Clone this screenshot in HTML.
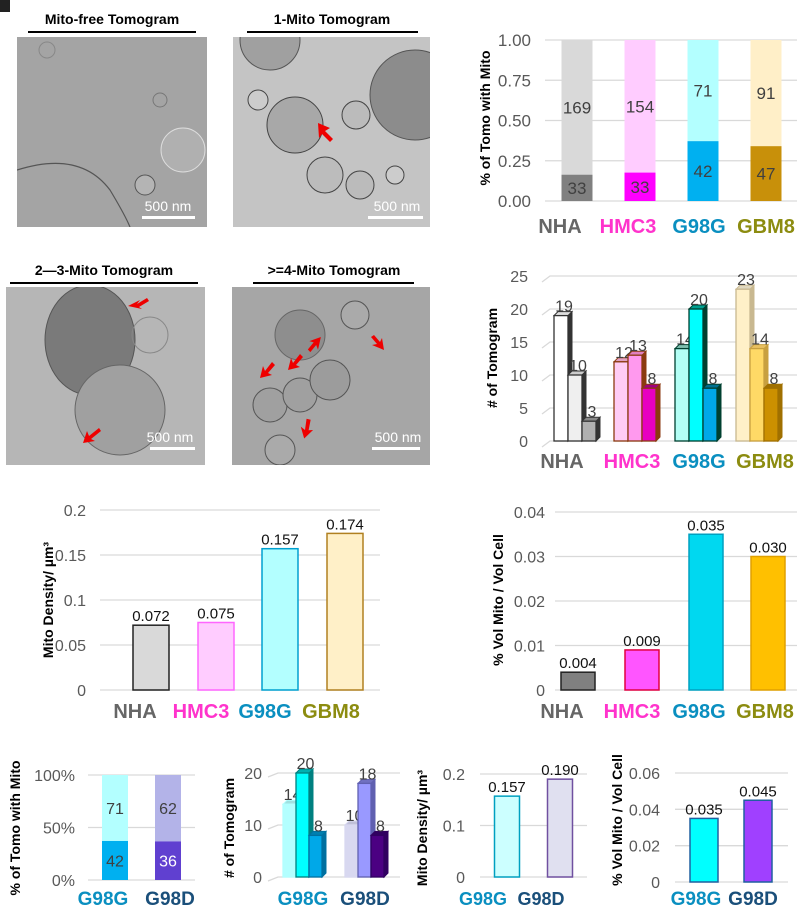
<!DOCTYPE html>
<html><head><meta charset="utf-8"><style>
body{margin:0;background:#fff;}
svg{display:block;font-family:"Liberation Sans",Arial,sans-serif;}
</style></head><body>
<svg id="fig" width="799" height="915" viewBox="0 0 799 915" xmlns="http://www.w3.org/2000/svg">
<defs>
<clipPath id="c1"><rect x="17" y="37" width="190" height="190"/></clipPath>
<clipPath id="c2"><rect x="233" y="37" width="197" height="190"/></clipPath>
<clipPath id="c3"><rect x="6" y="287" width="199" height="178"/></clipPath>
<clipPath id="c4"><rect x="232" y="287" width="198" height="178"/></clipPath>
</defs>
<g id="imgs">
  <rect x="0" y="0" width="10" height="12" fill="#222"/>
  <text x="112" y="24" font-size="14" font-weight="bold" text-anchor="middle">Mito-free Tomogram</text>
  <line x1="28" y1="32" x2="196" y2="32" stroke="#000" stroke-width="2"/>
  <g clip-path="url(#c1)">
  <rect x="17" y="37" width="190" height="190" fill="#a4a4a4"/>
  <path d="M17 170 Q80 150 110 190 Q125 215 130 227" fill="none" stroke="#555" stroke-width="1.2"/>
  <circle cx="145" cy="185" r="10" fill="#b4b4b4" stroke="#555"/><circle cx="183" cy="150" r="22" fill="#b0b0b0" stroke="#ddd"/>
  <circle cx="47" cy="50" r="8" fill="none" stroke="#888"/><circle cx="160" cy="100" r="7" fill="none" stroke="#777"/>
  </g>
  <text x="168" y="211" font-size="14" fill="#fff" text-anchor="middle">500 nm</text>
  <rect x="142" y="216" width="53" height="3" fill="#fff"/>

  <text x="332" y="24" font-size="14" font-weight="bold" text-anchor="middle">1-Mito Tomogram</text>
  <line x1="247" y1="32" x2="418" y2="32" stroke="#000" stroke-width="2"/>
  <g clip-path="url(#c2)">
  <rect x="233" y="37" width="197" height="190" fill="#c4c4c4"/>
  <circle cx="415" cy="95" r="45" fill="#8c8c8c" stroke="#555"/><circle cx="295" cy="125" r="28" fill="#a8a8a8" stroke="#444"/>
  <circle cx="325" cy="175" r="18" fill="#bcbcbc" stroke="#444"/><circle cx="270" cy="40" r="30" fill="#a0a0a0" stroke="#555"/>
  <circle cx="360" cy="185" r="14" fill="#bbb" stroke="#444"/><circle cx="258" cy="100" r="10" fill="#ccc" stroke="#444"/>
  <circle cx="356" cy="115" r="14" fill="#bbb" stroke="#444"/><circle cx="395" cy="175" r="9" fill="#ccc" stroke="#444"/>
  </g>
  <polygon points="318,123 330,128 325,131 333,139 330,142 322,134 319,138" fill="#e00"/>
  <text x="397" y="211" font-size="14" fill="#fff" text-anchor="middle">500 nm</text>
  <rect x="368" y="216" width="55" height="3" fill="#fff"/>

  <text x="104" y="275" font-size="14" font-weight="bold" text-anchor="middle">2—3-Mito Tomogram</text>
  <line x1="10" y1="283" x2="198" y2="283" stroke="#000" stroke-width="2"/>
  <g clip-path="url(#c3)">
  <rect x="6" y="287" width="199" height="178" fill="#b6b6b6"/>
  <ellipse cx="90" cy="340" rx="45" ry="55" fill="#7a7a7a" stroke="#555"/><ellipse cx="120" cy="410" rx="45" ry="45" fill="#a0a0a0" stroke="#666"/>
  <circle cx="150" cy="335" r="18" fill="none" stroke="#888"/>
  </g>
  <polygon points="128,306 140,300 137,304 147,298 149,301 139,307 142,309" fill="#e00"/>
  <polygon points="83,443 87,431 89,436 99,428 101,431 91,439 95,441" fill="#e00"/>
  <text x="170" y="442" font-size="14" fill="#fff" text-anchor="middle">500 nm</text>
  <rect x="150" y="447" width="45" height="3" fill="#fff"/>

  <text x="334" y="275" font-size="14" font-weight="bold" text-anchor="middle">&gt;=4-Mito Tomogram</text>
  <line x1="253" y1="283" x2="414" y2="283" stroke="#000" stroke-width="2"/>
  <g clip-path="url(#c4)">
  <rect x="232" y="287" width="198" height="178" fill="#a6a6a6"/>
  <circle cx="270" cy="405" r="17" fill="#a0a0a0" stroke="#555"/><circle cx="300" cy="395" r="17" fill="#a0a0a0" stroke="#555"/>
  <circle cx="330" cy="380" r="20" fill="#9c9c9c" stroke="#555"/><circle cx="355" cy="315" r="14" fill="#aaa" stroke="#555"/>
  <circle cx="280" cy="450" r="15" fill="#aaa" stroke="#555"/><circle cx="300" cy="335" r="25" fill="#8e8e8e" stroke="#666"/>
  </g>
  <polygon points="260,378 263,366 265,371 272,362 275,365 268,373 272,375" fill="#e00"/>
  <polygon points="288,370 291,358 293,363 300,354 303,357 296,365 300,367" fill="#e00"/>
  <polygon points="314,350 326,355 321,356 327,363 324,365 318,358 316,362" fill="#e00" transform="translate(-4,-12) rotate(80 320 356)"/>
  <polygon points="372,336 384,341 379,342 385,349 382,351 376,344 374,348" fill="#e00" transform="rotate(180 378 343)"/>
  <polygon points="300,437 303,425 305,430 312,421 315,424 308,432 312,434" fill="#e00" transform="rotate(-30 305 430)"/>
  <text x="398" y="442" font-size="14" fill="#fff" text-anchor="middle">500 nm</text>
  <rect x="372" y="447" width="48" height="3" fill="#fff"/>
</g>
<g id="charts"></g>
</svg>
<script>
// ---- Data ----
const catsMain = ["NHA","HMC3","G98G","GBM8"];
const catColorsMain = ["#666666","#ff33cc","#0a8fc0","#8c8c10"];
const fracWithMito = [33,33,42,47];
const fracWithout = [169,154,71,91];
const fracTicks = ["0.00","0.25","0.50","0.75","1.00"];
const tomo1 = [19,12,14,23];
const tomo2 = [10,13,20,14];
const tomo3 = [3,8,8,8];
const tomoTicks = [0,5,10,15,20,25];
const density = [0.072,0.075,0.157,0.174];
const densityTicks = [0,0.05,0.1,0.15,0.2];
const volFrac = [0.004,0.009,0.035,0.030];
const volTicks = [0,0.01,0.02,0.03,0.04];
const catsD = ["G98G","G98D"];
const catColorsD = ["#0a8fc0","#1a4f7a"];
const fracWithD = [42,36];
const fracWithoutD = [71,62];
const pctTicks = ["0%","50%","100%"];
const tomoD1 = [14,10];
const tomoD2 = [20,18];
const tomoD3 = [8,8];
const tomoDTicks = [0,10,20];
const densityD = [0.157,0.190];
const densityDTicks = [0,0.1,0.2];
const volD = [0.035,0.045];
const volDTicks = [0,0.02,0.04,0.06];

const NS="http://www.w3.org/2000/svg";
const root=document.getElementById('charts');
function mk(tag,attrs,parent,text){const e=document.createElementNS(NS,tag);for(const k in attrs)e.setAttribute(k,attrs[k]);if(text!==undefined)e.textContent=text;(parent||root).appendChild(e);return e;}
function lin(d0,d1,r0,r1){return v=>r0+(v-d0)/(d1-d0)*(r1-r0);}
function group(name){const g=mk('g',{});


return g;}
function yTitle(g,x,y,txt,fs){const t=mk('text',{x:x,y:y,'font-size':fs||14,'font-weight':'bold','text-anchor':'middle',transform:`rotate(-90 ${x} ${y})`},g,txt);

}
function axes(g,ticks,labels,y,x0,x1,lx,fs){ticks.forEach((v,i)=>{const yy=y(v);mk('line',{x1:x0,x2:x1,y1:yy,y2:yy,stroke:'#d9d9d9','stroke-width':1.3},g);const t=mk('text',{x:lx,y:yy+6,'font-size':fs||16,fill:'#595959','text-anchor':'end'},g,labels[i]);

});}
function catLabels(g,cats,cols,xs,y,fs){cats.forEach((c,i)=>{const t=mk('text',{x:xs[i],y:y,'font-size':fs||20,'font-weight':'bold',fill:cols[i],'text-anchor':'middle'},g,c);

});}
function simpleBars(g,vals,xs,w,y,fills,strokes,fmt,fs){vals.forEach((v,i)=>{const r=mk('rect',{x:xs[i]-w/2,y:y(v),width:w,height:y(0)-y(v),fill:fills[i],stroke:strokes[i],'stroke-width':1.5},g);


const t=mk('text',{x:xs[i],y:y(v)-4,'font-size':fs||15,'text-anchor':'middle',fill:'#111'},g,fmt(v));

});}
function stacked(g,lo,hi,xs,w,y,loC,hiC,fs,loTxt){lo.forEach((a,i)=>{const tot=a+hi[i];const f=a/tot;
const r1=mk('rect',{x:xs[i]-w/2,y:y(1),width:w,height:y(f)-y(1),fill:hiC[i]},g);


const r2=mk('rect',{x:xs[i]-w/2,y:y(f),width:w,height:y(0)-y(f),fill:loC[i]},g);


mk('text',{x:xs[i],y:(y(f)+y(0))/2+6,'font-size':fs,'text-anchor':'middle',fill:loTxt?loTxt[i]:'#404040'},g,a);
mk('text',{x:xs[i],y:(y(1)+y(f))/2+6,'font-size':fs,'text-anchor':'middle',fill:'#404040'},g,hi[i]);});}
function bars3d(g,series,x0s,bw,y,fills,strokes,tops,fs){const dd=4;series.forEach((vals,s)=>{vals.forEach((v,i)=>{const x=x0s[i]+s*bw;const yt=y(v),yb=y(0);
mk('polygon',{points:`${x+bw},${yt} ${x+bw+dd},${yt-dd} ${x+bw+dd},${yb-dd} ${x+bw},${yb}`,fill:strokes[s][i],stroke:strokes[s][i]},g);
mk('polygon',{points:`${x},${yt} ${x+dd},${yt-dd} ${x+bw+dd},${yt-dd} ${x+bw},${yt}`,fill:tops[s][i],stroke:strokes[s][i]},g);
const r=mk('rect',{x:x,y:yt,width:bw,height:yb-yt,fill:fills[s][i],stroke:strokes[s][i],'stroke-width':1.3},g);


mk('text',{x:x+bw/2+3,y:yt-4,'font-size':fs,'text-anchor':'middle',fill:'#404040'},g,v);});});}

// Chart A: fraction
{const g=group('chart-fraction-with-mito');const y=lin(0,1,201,40);
axes(g,[0,0.25,0.5,0.75,1],fracTicks,y,545,797,531,17);
const xs=[577,640,703,766];
stacked(g,fracWithMito,fracWithout,xs,31,y,["#808080","#ff00ff","#00b0f0","#c8900a"],["#d9d9d9","#ffccff","#b3ffff","#ffefc8"],17);
yTitle(g,490,118,"% of Tomo with Mito",14);
catLabels(g,catsMain,catColorsMain,[560,628,699,766],233,20);}

// Chart B: 3D tomogram counts
{const g=group('chart-tomogram-counts');const y=lin(0,25,441,276);
tomoTicks.forEach(v=>{const yy=y(v);mk('polyline',{points:`542,${yy+6} 550,${yy} 797,${yy}`,fill:'none',stroke:'#d9d9d9','stroke-width':1.3},g);mk('text',{x:528,y:yy+6,'font-size':16,fill:'#595959','text-anchor':'end'},g,v);});
const x0s=[554,614,675,736];
bars3d(g,[tomo1,tomo2,tomo3],x0s,14,y,
 [["#fff","#ffccf5","#b3fff5","#fff0c8"],["#efefef","#ff99ee","#00ffff","#ffd966"],["#b0b0b0","#e800c0","#00a8e8","#cc9000"]],
 [["#333","#8b3a10","#004030","#c8b890"],["#333","#8b3a10","#004030","#c8a040"],["#333","#8b3a10","#004030","#a07000"]],
 [["#ddd","#e0a0c0","#80c0b0","#e0d8c0"],["#ccc","#e080c0","#00a090","#e8c060"],["#888","#a00080","#007090","#a07000"]],16);
yTitle(g,497,358,"# of Tomogram",14);
catLabels(g,catsMain,catColorsMain,[562,632,699,765],468,20);}

// Chart C: density
{const g=group('chart-mito-density');const y=lin(0,0.2,690,510);
axes(g,densityTicks,["0","0.05","0.1","0.15","0.2"],y,100,380,86,16);
simpleBars(g,density,[151,216,280,345],36,y,["#d9d9d9","#ffccff","#b3ffff","#fff0c8"],["#222","#ff66ff","#00a0d0","#b08020"],v=>v.toFixed(3),15);
yTitle(g,53,600,"Mito Density/ µm³",14);
catLabels(g,catsMain,catColorsMain,[135,201,265,331],718,20);}

// Chart D: volume
{const g=group('chart-volume-fraction');const y=lin(0,0.04,690,512);
axes(g,volTicks,["0","0.01","0.02","0.03","0.04"],y,555,797,545,16);
simpleBars(g,volFrac,[578,642,706,768],34,y,["#808080","#ff55ff","#00d8f0","#ffc000"],["#222","#e00040","#00a0c0","#e0a000"],v=>v.toFixed(3),15);
yTitle(g,503,600,"% Vol Mito / Vol Cell",14);
catLabels(g,catsMain,catColorsMain,[562,632,699,765],718,20);}

// Chart E: G98 fraction
{const g=group('chart-g98-fraction');const y=lin(0,1,880,775);
axes(g,[0,0.5,1],pctTicks,y,88,195,75,16);
stacked(g,fracWithD,fracWithoutD,[115,168],26,y,["#00b0f0","#6040d0"],["#b3ffff","#b3b3e8"],16,["#404040","#ffffff"]);
yTitle(g,20,828,"% of Tomo with Mito",14);
catLabels(g,catsD,catColorsD,[103,170],905,19);}

// Chart F: G98 tomogram counts
{const g=group('chart-g98-tomogram-counts');const y=lin(0,20,877,773);
tomoDTicks.forEach(v=>{const yy=y(v);mk('polyline',{points:`268,${yy+4} 278,${yy} 400,${yy}`,fill:'none',stroke:'#d9d9d9','stroke-width':1.3},g);mk('text',{x:262,y:yy+6,'font-size':16,fill:'#595959','text-anchor':'end'},g,v);});
bars3d(g,[tomoD1,tomoD2,tomoD3],[283,345],13,y,
 [["#b3ffff","#d8d8f0"],["#00ffff","#9999ff"],["#00a8e8","#4b0082"]],
 [["#b3ffff","#d8d8f0"],["#008080","#6060b0"],["#0070a0","#300060"]],
 [["#a0e0e0","#c0c0d8"],["#00b0b0","#7070c0"],["#0080b0","#300060"]],16);
yTitle(g,234,828,"# of Tomogram",14);
catLabels(g,catsD,catColorsD,[303,365],905,19);}

// Chart G: G98 density
{const g=group('chart-g98-density');const y=lin(0,0.2,877,774);
axes(g,densityDTicks,["0","0.1","0.2"],y,480,587,465,16);
simpleBars(g,densityD,[507,560],25,y,["#ccffff","#e0e0f0"],["#00a0c0","#7050a0"],v=>v.toFixed(3),15);
yTitle(g,427,828,"Mito Density/ µm³",14);
catLabels(g,catsD,catColorsD,[483,541],905,18);}

// Chart H: G98 volume
{const g=group('chart-g98-volume');const y=lin(0,0.06,882,773);
axes(g,volDTicks,["0","0.02","0.04","0.06"],y,675,788,660,16);
simpleBars(g,volD,[704,758],28,y,["#00ffff","#a040ff"],["#2060a0","#2060a0"],v=>v.toFixed(3),15);
yTitle(g,622,820,"% Vol Mito / Vol Cell",14);
catLabels(g,catsD,catColorsD,[696,753],905,19);}
</script>
</body></html>
